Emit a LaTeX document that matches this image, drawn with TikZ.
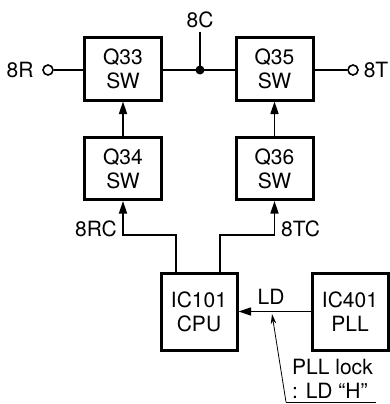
\documentclass[tikz,border=0pt]{standalone}
\usepackage{fontspec}
\setmainfont{TeX Gyre Heros}
\usetikzlibrary{arrows.meta}

\begin{document}
\begin{tikzpicture}[x=1pt, y=-1pt,
		blk/.style={draw, line width=3pt, minimum width=77pt, minimum height=62pt, align=center, font=\fontsize{21}{24}\selectfont, inner sep=0pt},
		wire/.style={line width=1.6pt},
		sig/.style={wire, -{Triangle[length=12.5pt, width=8pt]}},
		lbl/.style={font=\fontsize{21}{24}\selectfont, inner sep=0pt}]
			%%%%% START %%%%%
			\useasboundingbox (0, 0) rectangle (390, 404);
			
			\node[blk] (q33) at (123, 69) {Q33\\SW};
			\node[blk] (q35) at (274.5, 69) {Q35\\SW};
			\node[blk] (q34) at (123, 168.5) {Q34\\SW};
			\node[blk] (q36) at (274.5, 168.5) {Q36\\SW};
			\node[blk, minimum width=76pt, minimum height=77pt] (cpu) at (199, 311.5) {IC101\\CPU};
			\node[blk, minimum width=76pt, minimum height=77pt] (pll) at (350, 311.5) {IC401\\PLL};
			
			\node[draw, circle, wire, minimum size=10pt, inner sep=0pt] (t8r) at (48, 70) {};
			\node[draw, circle, wire, minimum size=10pt, inner sep=0pt] (t8t) at (353, 70) {};
			\node[lbl] (l8r) at (20, 70) {8R};
			\node[lbl] (l8t) at (376, 70) {8T};
			
			\draw[wire] (t8r) -- (q33.west |- t8r);
			\draw[wire] (q35.east |- t8t) -- (t8t);
			\draw[wire] (q33.east |- 0, 70) -- (q35.west |- 0, 70);
			\fill (200, 70) circle (4.5) coordinate (jn);
			\coordinate (c8) at (200, 32);
			\draw[wire] (c8) -- (jn);
			\node[lbl, above=4pt] (l8c) at (c8) {8C};
			
			\draw[sig] (q34) -- (q33);
			\draw[sig] (q36) -- (q35);
			
			\coordinate (rc) at (176, 235);
			\coordinate (tc) at (220, 235);
			\draw[sig] (cpu.north -| rc) -- (rc) -- (q34.south |- rc) -- (q34.south);
			\draw[sig] (cpu.north -| tc) -- (tc) -- (q36.south |- tc) -- (q36.south);
			\node[lbl, anchor=east] (l8rc) at (117, 229) {8RC};
			\node[lbl, anchor=west] (l8tc) at (281, 229) {8TC};
			
			\draw[sig] (pll.west) -- (cpu.east);
			\node[lbl] (lld) at (271, 297) {LD};
			
			\coordinate (ul) at (286, 402);
			\coordinate (ur) at (376, 402);
			\node[lbl, anchor=south west, align=left] (note) at (292, 399) {PLL lock\\: LD “H”};
			\draw[line width=0.8pt] (ur) -- (ul);
			\draw[line width=0.8pt, -{Stealth[length=10pt, width=5.5pt]}] (ul) -- (272, 314);
			
			%%%%% END %%%%%
\end{tikzpicture}
\end{document}
